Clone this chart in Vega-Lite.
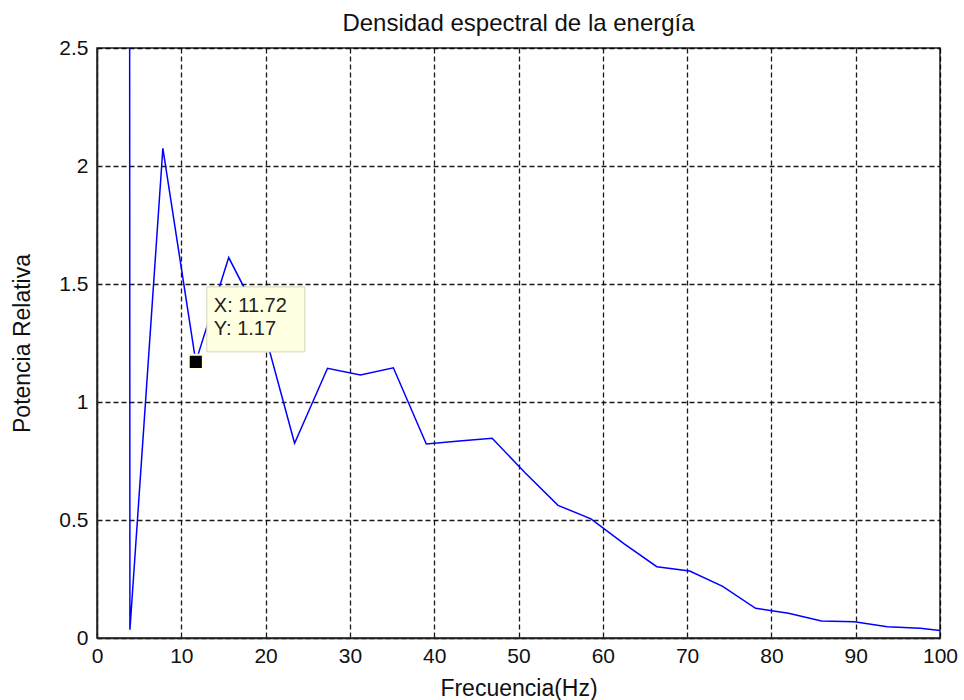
{
  "$schema": "https://vega.github.io/schema/vega-lite/v6.json",
  "autosize": "none",
  "width": 843,
  "height": 590,
  "padding": {"left": 97, "top": 48, "right": 24, "bottom": 62},
  "background": "white",
  "config": {
    "font": "Liberation Sans",
    "view": {"stroke": "#222", "strokeWidth": 1.5},
    "axis": {
      "labelFont": "Liberation Sans",
      "titleFont": "Liberation Sans",
      "labelFontSize": 21,
      "titleFontSize": 23,
      "titleFontWeight": "normal",
      "labelColor": "#111",
      "titleColor": "#111",
      "domainColor": "#222",
      "domainWidth": 1.5,
      "ticks": false,
      "gridColor": "#000",
      "gridOpacity": 0.9,
      "gridWidth": 1.3,
      "gridDash": [5, 3]
    }
  },
  "title": {
    "text": "Densidad espectral de la energía",
    "fontSize": 24,
    "fontWeight": "normal",
    "font": "Liberation Sans",
    "color": "#111",
    "anchor": "middle",
    "offset": 1
  },
  "datasets": {
    "psd": [
      {"f": 0, "p": 300},
      {"f": 3.906, "p": 0.035},
      {"f": 7.813, "p": 2.075},
      {"f": 11.719, "p": 1.17},
      {"f": 15.625, "p": 1.612},
      {"f": 19.531, "p": 1.34},
      {"f": 23.438, "p": 0.825},
      {"f": 27.344, "p": 1.143},
      {"f": 31.25, "p": 1.114},
      {"f": 35.156, "p": 1.145},
      {"f": 39.063, "p": 0.822},
      {"f": 42.969, "p": 0.835},
      {"f": 46.875, "p": 0.846},
      {"f": 50.781, "p": 0.70},
      {"f": 54.688, "p": 0.562},
      {"f": 58.594, "p": 0.505},
      {"f": 62.5, "p": 0.40},
      {"f": 66.406, "p": 0.302},
      {"f": 70.313, "p": 0.284},
      {"f": 74.219, "p": 0.219},
      {"f": 78.125, "p": 0.126},
      {"f": 82.031, "p": 0.105},
      {"f": 85.938, "p": 0.072},
      {"f": 89.844, "p": 0.069},
      {"f": 93.75, "p": 0.048},
      {"f": 97.656, "p": 0.041},
      {"f": 101.563, "p": 0.025}
    ],
    "tip": [
      {"f": 11.72, "p": 1.17, "lx": "X: 11.72", "ly": "Y: 1.17"}
    ]
  },
  "encoding": {
    "x": {
      "field": "f",
      "type": "quantitative",
      "scale": {"domain": [0, 100], "nice": false, "zero": false},
      "axis": {
        "title": "Frecuencia(Hz)",
        "values": [0, 10, 20, 30, 40, 50, 60, 70, 80, 90, 100],
        "labelPadding": 7,
        "titleY": 50,
        "titleBaseline": "middle",
        "labelFlush": false
      }
    },
    "y": {
      "field": "p",
      "type": "quantitative",
      "scale": {"domain": [0, 2.5], "nice": false, "zero": false},
      "axis": {
        "title": "Potencia Relativa",
        "values": [0, 0.5, 1, 1.5, 2, 2.5],
        "labelExpr": "datum.value",
        "labelPadding": 9,
        "titleX": -75,
        "titleY": 295,
        "titleAngle": -90,
        "titleAlign": "center",
        "titleBaseline": "middle",
        "labelFlush": false
      }
    }
  },
  "layer": [
    {
      "data": {"name": "psd"},
      "mark": {"type": "line", "color": "#0000ff", "strokeWidth": 1.5, "clip": true}
    },
    {
      "data": {"name": "tip"},
      "mark": {
        "type": "rect",
        "fill": "#ffffe1",
        "stroke": "#d8d4b8",
        "strokeWidth": 1,
        "xOffset": 11,
        "x2Offset": 109,
        "yOffset": -75,
        "y2Offset": -10
      },
      "encoding": {"x2": {"field": "f"}, "y2": {"field": "p"}}
    },
    {
      "data": {"name": "tip"},
      "mark": {
        "type": "point",
        "shape": "square",
        "filled": true,
        "fill": "#000",
        "stroke": "#ffffe1",
        "strokeWidth": 2,
        "opacity": 1,
        "size": 200
      }
    },
    {
      "data": {"name": "tip"},
      "mark": {
        "type": "text",
        "align": "left",
        "baseline": "middle",
        "dx": 18,
        "dy": -56,
        "fontSize": 20,
        "font": "Liberation Sans",
        "color": "#222"
      },
      "encoding": {"text": {"field": "lx"}}
    },
    {
      "data": {"name": "tip"},
      "mark": {
        "type": "text",
        "align": "left",
        "baseline": "middle",
        "dx": 18,
        "dy": -33,
        "fontSize": 20,
        "font": "Liberation Sans",
        "color": "#222"
      },
      "encoding": {"text": {"field": "ly"}}
    }
  ]
}
